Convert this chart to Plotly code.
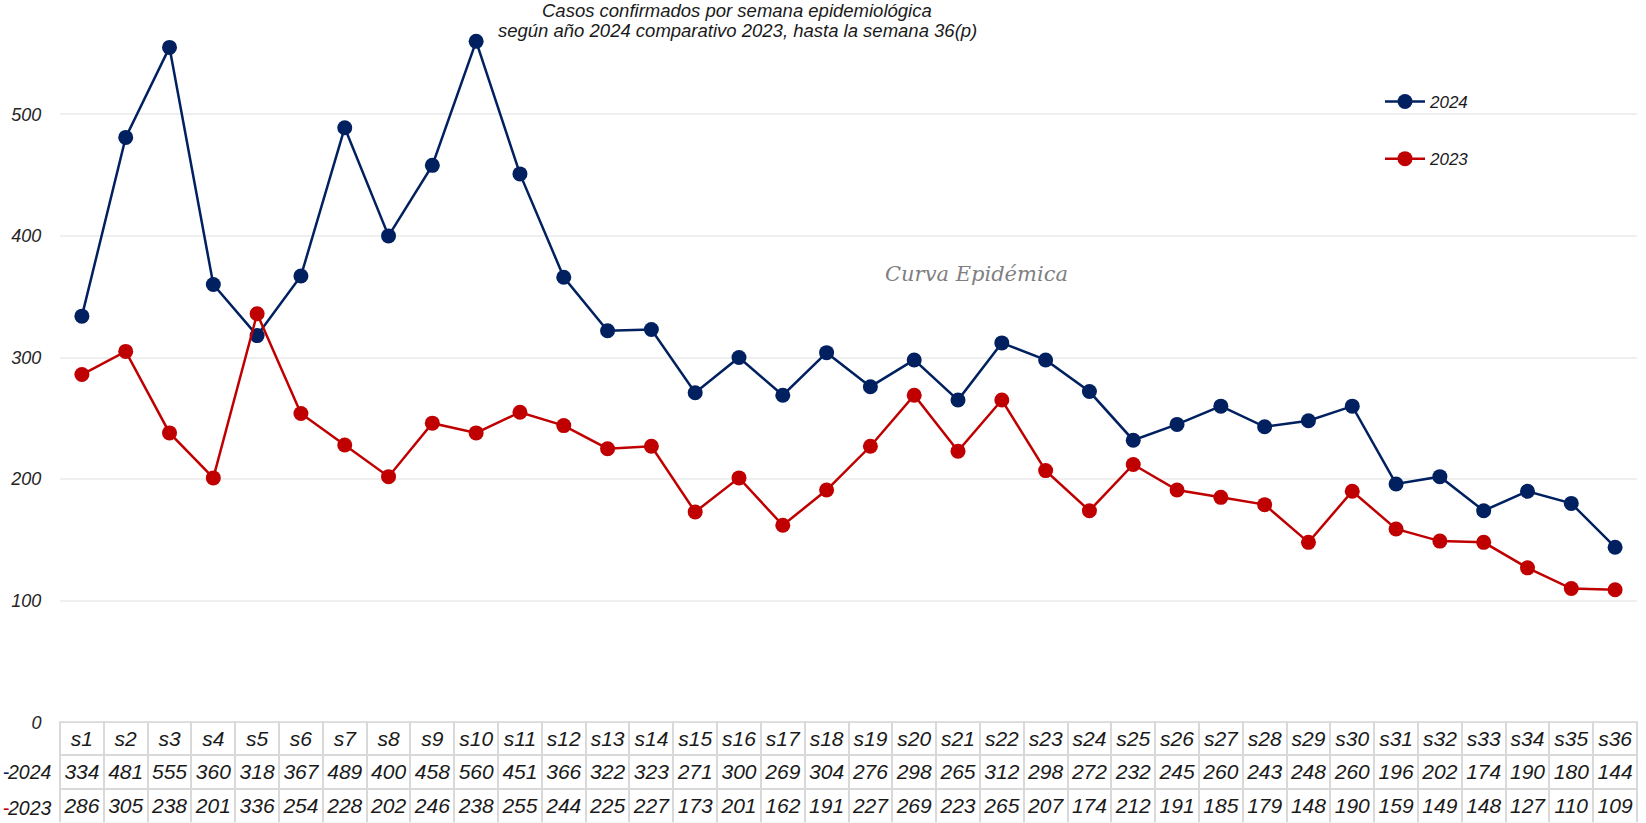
import plotly.graph_objects as go

weeks = [f"s{i}" for i in range(1, 37)]
y2024 = [334, 481, 555, 360, 318, 367, 489, 400, 458, 560, 451, 366, 322, 323, 271, 300, 269, 304,
         276, 298, 265, 312, 298, 272, 232, 245, 260, 243, 248, 260, 196, 202, 174, 190, 180, 144]
y2023 = [286, 305, 238, 201, 336, 254, 228, 202, 246, 238, 255, 244, 225, 227, 173, 201, 162, 191,
         227, 269, 223, 265, 207, 174, 212, 191, 185, 179, 148, 190, 159, 149, 148, 127, 110, 109]
series_names = ["2024", "2023"]
colors = ["#002060", "#C00000"]
y_ticks = [0, 100, 200, 300, 400, 500]

W, H = 1646, 823
FONT = "Liberation Sans, Arial, sans-serif"
x0, x1 = 60 / W, 1637 / W
y_zero_px = 722.3
ydom0 = (H - y_zero_px) / H

fig = go.Figure()
for name, vals, col, grp in zip(series_names, [y2024, y2023], colors, ["a", "b"]):
    fig.add_trace(go.Scatter(
        x=weeks, y=vals, name=name, mode="lines+markers",
        line=dict(color=col, width=2.5),
        marker=dict(color=col, size=15),
        legendgroup=grp,
    ))

fig.add_trace(go.Table(
    domain=dict(x=[x0, x1], y=[0, ydom0]),
    columnwidth=[1] * len(weeks),
    header=dict(values=weeks, height=33, align="center",
                line=dict(color="#d9d9d9", width=2), fill=dict(color="white"),
                font=dict(family=FONT, size=21, color="#1a1a1a", style="italic")),
    cells=dict(values=[[a, b] for a, b in zip(y2024, y2023)], height=34, align="center",
               line=dict(color="#d9d9d9", width=2), fill=dict(color="white"),
               font=dict(family=FONT, size=21, color="#1a1a1a", style="italic")),
))

fig.update_layout(
    width=W, height=H,
    margin=dict(l=0, r=0, t=0, b=0, autoexpand=False),
    paper_bgcolor="white", plot_bgcolor="white",
    showlegend=True,
    legend=dict(x=1380 / W, y=1 - 84 / H, xanchor="left", yanchor="top",
                font=dict(family=FONT, size=17, color="#1a1a1a", style="italic"),
                tracegroupgap=32, itemwidth=40, bgcolor="rgba(0,0,0,0)"),
    xaxis=dict(domain=[x0, x1], range=[-0.5, 35.5], showticklabels=False, showgrid=False,
               zeroline=False, showline=False, automargin=False),
    yaxis=dict(domain=[ydom0, 1], range=[0, y_zero_px / 1.216], tickvals=y_ticks,
               showgrid=True, gridcolor="#efefef", gridwidth=2, zeroline=False, automargin=False,
               ticks="outside", ticklen=14, tickcolor="rgba(0,0,0,0)",
               tickfont=dict(family=FONT, size=18, color="#262626", style="italic")),
)

title_font = dict(family=FONT, size=18.5, color="#1a1a1a", style="italic")
fig.add_annotation(text="Casos confirmados por semana epidemiológica", xref="paper", yref="paper",
                   x=737 / W, y=1 - 10 / H, xanchor="center", yanchor="middle",
                   showarrow=False, font=title_font)
fig.add_annotation(text="según año 2024 comparativo 2023, hasta la semana 36(p)", xref="paper", yref="paper",
                   x=737 / W, y=1 - 30 / H, xanchor="center", yanchor="middle",
                   showarrow=False, font=title_font)
fig.add_annotation(text="Curva Epidémica", xref="paper", yref="paper",
                   x=976 / W, y=1 - 274 / H, xanchor="center", yanchor="middle",
                   showarrow=False,
                   font=dict(family="DejaVu Serif", size=21, color="#7f7f7f", style="italic"))
for name, col, ypx in zip(series_names, colors, [772, 808]):
    fig.add_annotation(text=name, xref="paper", yref="paper",
                       x=54 / W, y=1 - ypx / H, xanchor="right", yanchor="middle",
                       showarrow=False,
                       font=dict(family=FONT, size=19.5, color="#1a1a1a", style="italic"))
    fig.add_annotation(text="-", xref="paper", yref="paper",
                       x=1 / W, y=1 - ypx / H, xanchor="left", yanchor="middle",
                       showarrow=False,
                       font=dict(family=FONT, size=19.5, color=col))

fig.write_html("out.html", config={"displayModeBar": False},
               post_script="document.body.style.margin='0';document.body.style.overflow='hidden';")
